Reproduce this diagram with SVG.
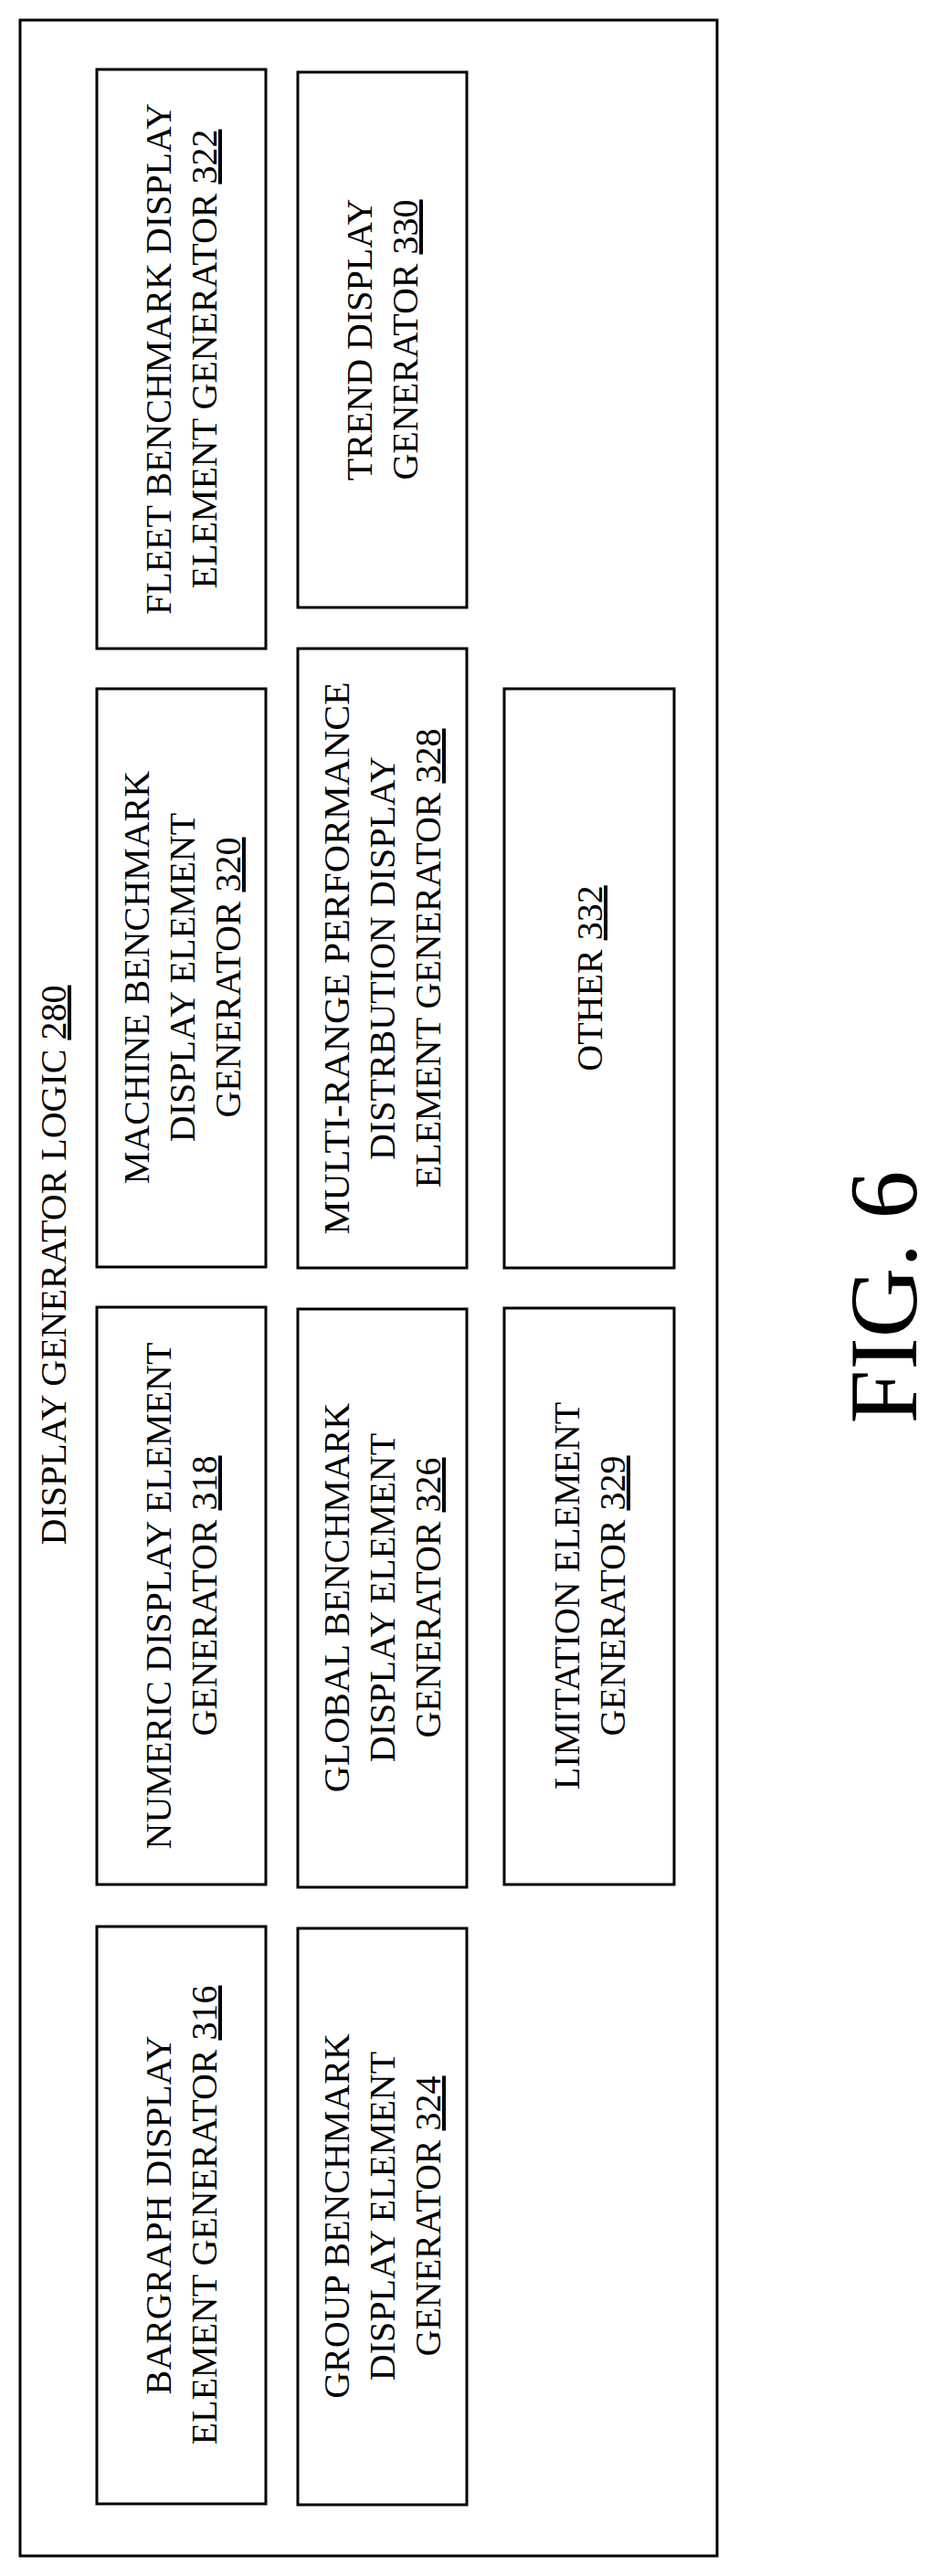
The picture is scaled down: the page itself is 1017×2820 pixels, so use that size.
<svg xmlns="http://www.w3.org/2000/svg" width="1017" height="2820" viewBox="0 0 1017 2820">
<style>
rect{fill:#fff;stroke:#000;stroke-width:3}
text{font-family:"Liberation Serif","Times New Roman",serif;font-size:40px;fill:#000;text-anchor:middle}
.u{text-decoration:underline}
.fig{font-size:106px}
</style>
<rect width="1017" height="2820" style="stroke:none"/>
<g id="outer"><rect x="22" y="22" width="763" height="2776"/>
<text transform="translate(72,1385) rotate(-90)">DISPLAY GENERATOR LOGIC <tspan class="u">280</tspan></text></g>
<g id="n322"><rect x="106" y="76" width="185" height="634"/>
<text transform="translate(0,393) rotate(-90)"><tspan x="0" y="187">FLEET BENCHMARK DISPLAY</tspan><tspan x="0" y="237">ELEMENT GENERATOR <tspan class="u">322</tspan></tspan></text></g>
<g id="n320"><rect x="106" y="754" width="185" height="633"/>
<text transform="translate(0,1070) rotate(-90)"><tspan x="0" y="163">MACHINE BENCHMARK</tspan><tspan x="0" y="213">DISPLAY ELEMENT</tspan><tspan x="0" y="263">GENERATOR <tspan class="u">320</tspan></tspan></text></g>
<g id="n318"><rect x="106" y="1431" width="185" height="632"/>
<text transform="translate(0,1747) rotate(-90)"><tspan x="0" y="187">NUMERIC DISPLAY ELEMENT</tspan><tspan x="0" y="237">GENERATOR <tspan class="u">318</tspan></tspan></text></g>
<g id="n316"><rect x="106" y="2109" width="185" height="632"/>
<text transform="translate(0,2425) rotate(-90)"><tspan x="0" y="187">BARGRAPH DISPLAY</tspan><tspan x="0" y="237">ELEMENT GENERATOR <tspan class="u">316</tspan></tspan></text></g>
<g id="n330"><rect x="326" y="79" width="185" height="586"/>
<text transform="translate(0,372) rotate(-90)"><tspan x="0" y="407">TREND DISPLAY</tspan><tspan x="0" y="457">GENERATOR <tspan class="u">330</tspan></tspan></text></g>
<g id="n328"><rect x="326" y="710" width="185" height="678"/>
<text transform="translate(0,1049) rotate(-90)"><tspan x="0" y="382" textLength="605" lengthAdjust="spacingAndGlyphs">MULTI-RANGE PERFORMANCE</tspan><tspan x="0" y="432">DISTRBUTION DISPLAY</tspan><tspan x="0" y="482">ELEMENT GENERATOR <tspan class="u">328</tspan></tspan></text></g>
<g id="n326"><rect x="326" y="1433" width="185" height="633"/>
<text transform="translate(0,1749) rotate(-90)"><tspan x="0" y="382">GLOBAL BENCHMARK</tspan><tspan x="0" y="432">DISPLAY ELEMENT</tspan><tspan x="0" y="482">GENERATOR <tspan class="u">326</tspan></tspan></text></g>
<g id="n324"><rect x="326" y="2111" width="185" height="631"/>
<text transform="translate(0,2426) rotate(-90)"><tspan x="0" y="382">GROUP BENCHMARK</tspan><tspan x="0" y="432">DISPLAY ELEMENT</tspan><tspan x="0" y="482">GENERATOR <tspan class="u">324</tspan></tspan></text></g>
<g id="n332"><rect x="552" y="754" width="186" height="634"/>
<text transform="translate(659,1071) rotate(-90)">OTHER <tspan class="u">332</tspan></text></g>
<g id="n329"><rect x="552" y="1432" width="186" height="631"/>
<text transform="translate(0,1747) rotate(-90)"><tspan x="0" y="634">LIMITATION ELEMENT</tspan><tspan x="0" y="684">GENERATOR <tspan class="u">329</tspan></tspan></text></g>
<g id="connectors"/>
<text class="fig" transform="translate(1003,1420) rotate(-90)">FIG. 6</text>
</svg>
